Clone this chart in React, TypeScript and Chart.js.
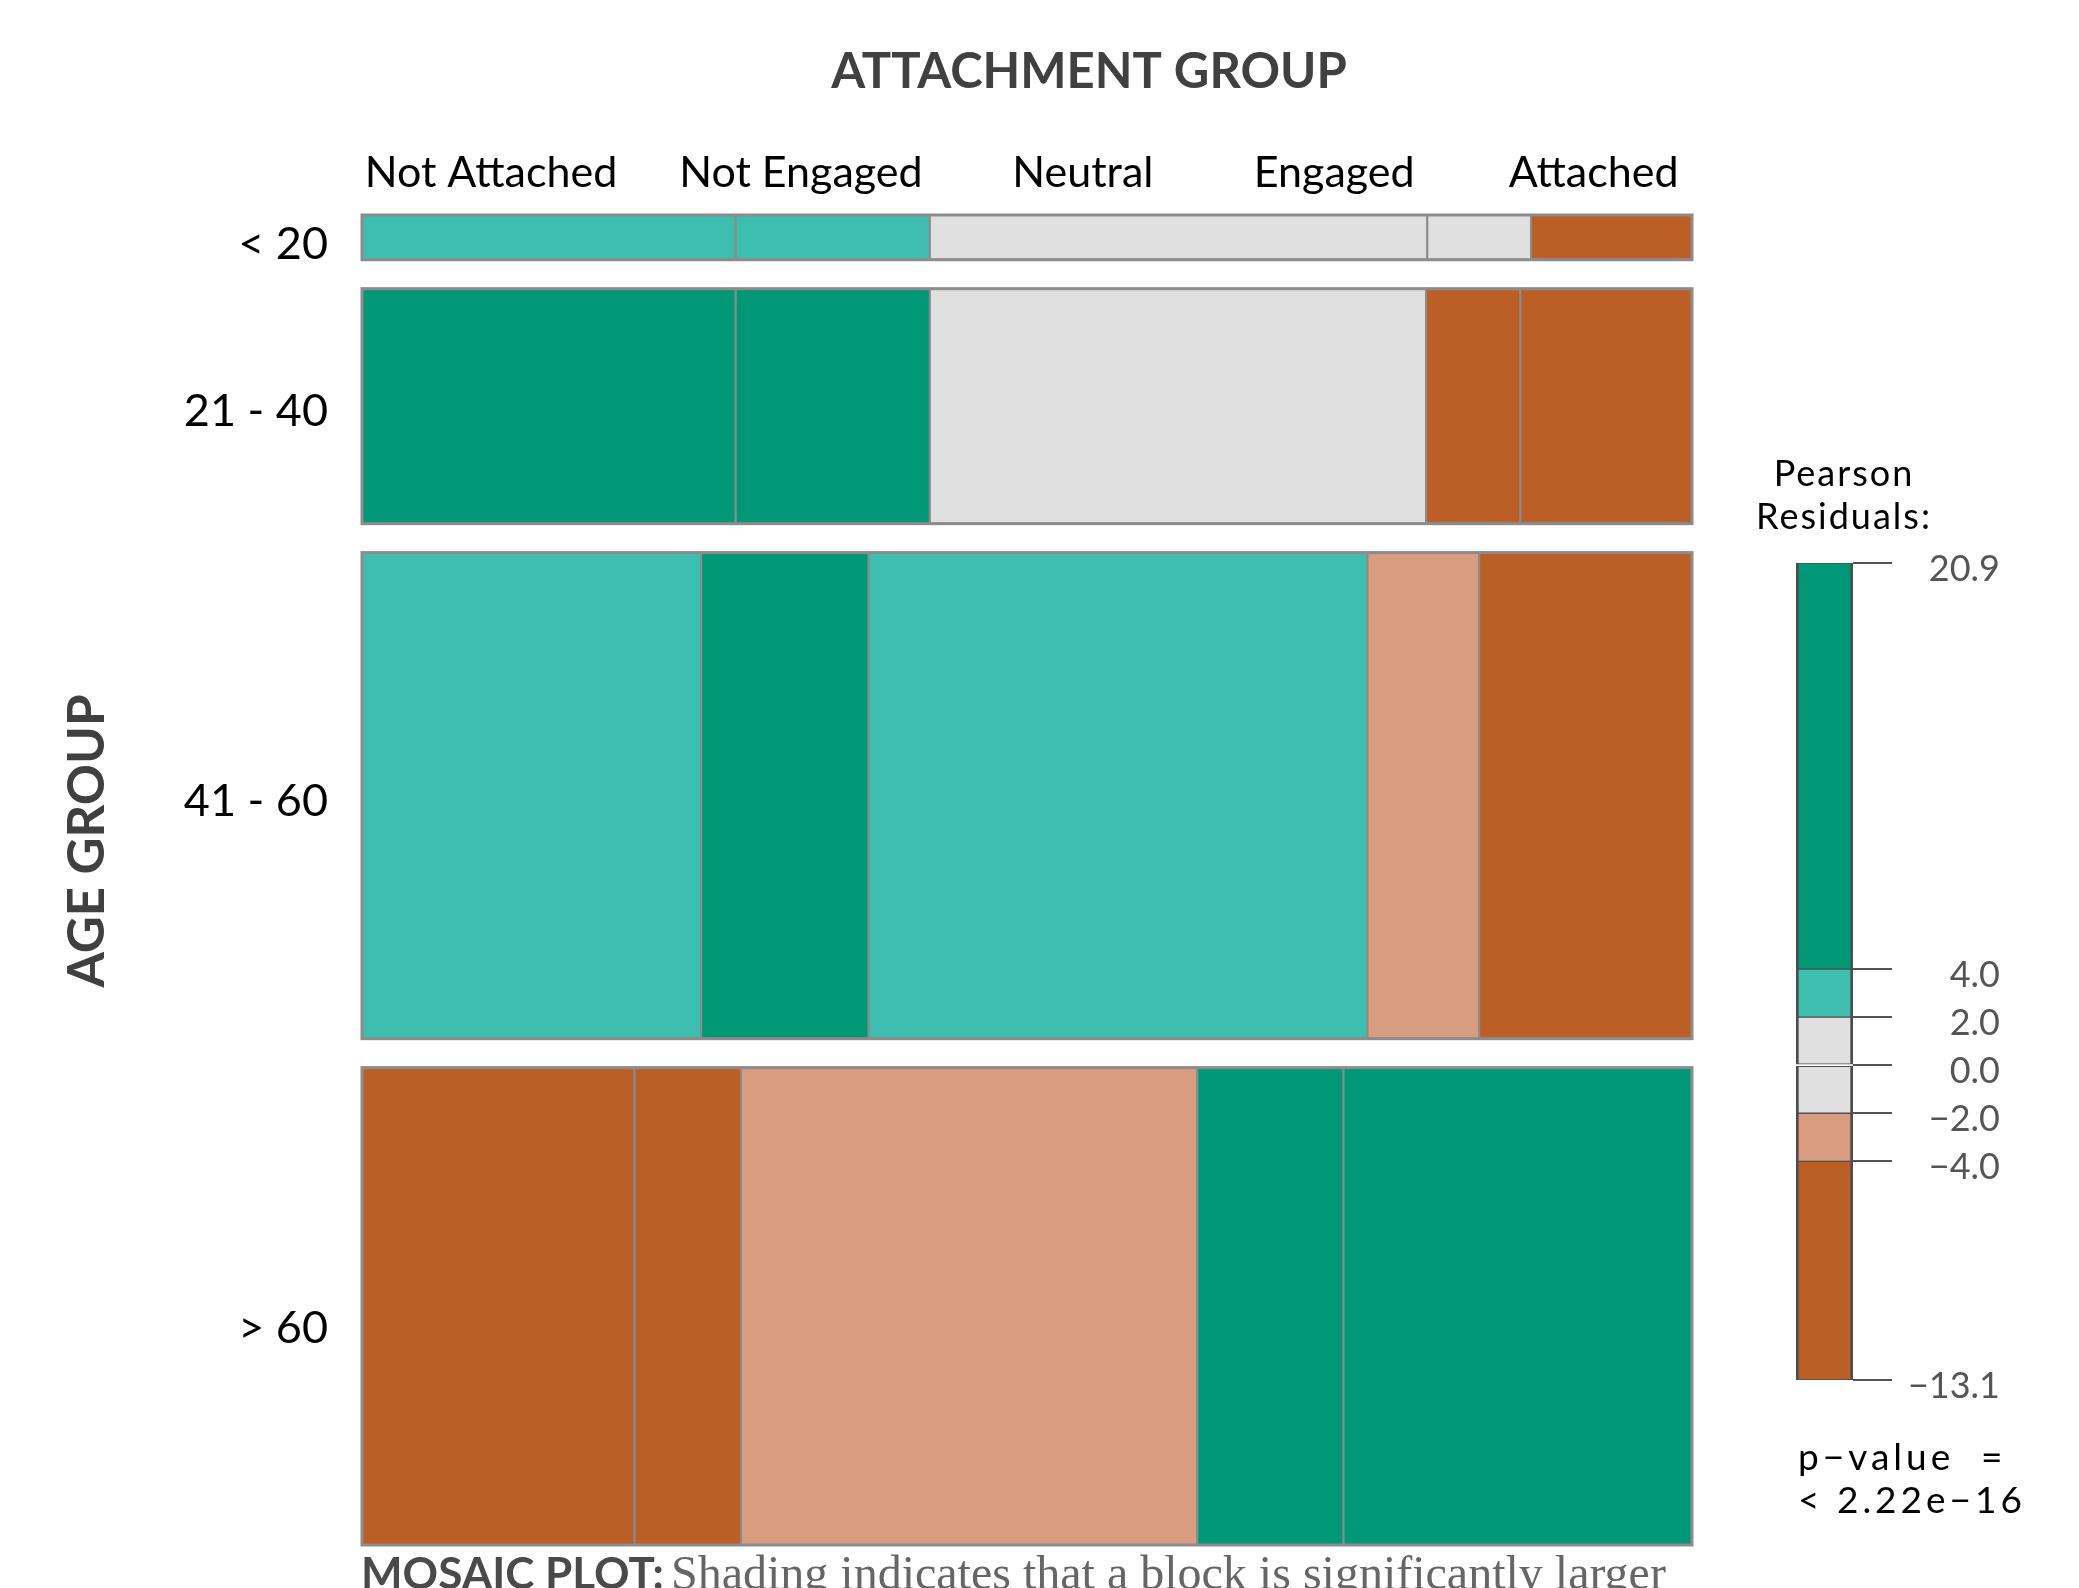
import { useEffect, useRef } from "react";
import { Chart, registerables } from "chart.js";

Chart.register(...registerables);

// ---------------- data ----------------
const attachmentGroups = ["Not Attached", "Not Engaged", "Neutral", "Engaged", "Attached"];
const ageGroups = ["< 20", "21 - 40", "41 - 60", "> 60"];

// share of respondents in each age group (row heights, %)
const ageShares = [3.6, 18.9, 39.1, 38.4];

// conditional share of each attachment group within an age group (%)
const under20Shares = [28.1, 14.6, 37.4, 7.8, 12.1];
const age21to40Shares = [28.1, 14.6, 37.3, 7.1, 12.9];
const age41to60Shares = [25.5, 12.6, 37.5, 8.4, 16.0];
const over60Shares = [20.5, 8.0, 34.3, 11.0, 26.2];

// Pearson residuals per cell (estimated from the shading)
const under20Residuals = [3.4, 2.7, 1.1, 0.6, -4.3];
const age21to40Residuals = [11.6, 6.8, 1.4, -5.2, -10.7];
const age41to60Residuals = [3.3, 4.9, 2.9, -3.1, -7.4];
const over60Residuals = [-13.1, -6.3, -3.4, 6.1, 20.9];

// legend breaks of the residual scale
const residualBreaks = [-13.1, -4, -2, 0, 2, 4, 20.9];
const legendTitle = ["Pearson", "Residuals:"];
const pValueText = ["p\u2212value  =", "< 2.22e\u221216"];

const chartTitle = "ATTACHMENT GROUP";
const rowTitle = "AGE GROUP";
const captionBold = "MOSAIC PLOT:";
const captionText = "Shading indicates that a block is significantly larger";

// ---------------- styles / layout ----------------
const W = 2079;
const H = 1588;
const FONT = "Lato, 'Open Sans', sans-serif";
const colors = {
  strongPos: "#009877",
  pos: "#3EBEAE",
  neutral: "#E0E0E0",
  neg: "#D89C80",
  strongNeg: "#BB5F27",
  cellBorder: "#8C8C8C",
};
const rowGap = 2.33; // spacing between rows, in row-share units
const colLabelPos = [9.7, 33.0, 54.2, 73.1, 92.6]; // column header centres, % of width
const rowLabelShift = [0.15, 0, 0.05, 1.4]; // small nudges of row labels, in row-share units

const rowShares = [under20Shares, age21to40Shares, age41to60Shares, over60Shares];
const rowResiduals = [under20Residuals, age21to40Residuals, age41to60Residuals, over60Residuals];

function shade(r: number) {
  if (r > 4) return colors.strongPos;
  if (r > 2) return colors.pos;
  if (r < -4) return colors.strongNeg;
  if (r < -2) return colors.neg;
  return colors.neutral;
}

function rowTop(i: number) {
  let t = 0;
  for (let j = 0; j < i; j++) t += ageShares[j] + rowGap;
  return t;
}
const yMax = rowTop(ageShares.length - 1) + ageShares[ageShares.length - 1];

function fmt(v: number) {
  return (v < 0 ? "\u2212" : "") + Math.abs(v).toFixed(1);
}

const mosaicPlugin = {
  id: "mosaic",
  beforeDatasetsDraw(chart: any) {
    const { ctx } = chart;
    const x = chart.scales.x;
    const y = chart.scales.y;
    ctx.save();
    rowShares.forEach((shares: number[], i: number) => {
      const total = shares.reduce((a, b) => a + b, 0);
      const top = rowTop(i);
      const y0 = y.getPixelForValue(top);
      const y1 = y.getPixelForValue(top + ageShares[i]);
      let acc = 0;
      shares.forEach((s, j) => {
        const x0 = x.getPixelForValue((acc / total) * 100);
        const x1 = x.getPixelForValue(((acc + s) / total) * 100);
        ctx.fillStyle = shade(rowResiduals[i][j]);
        ctx.fillRect(x0, y0, x1 - x0, y1 - y0);
        ctx.strokeStyle = colors.cellBorder;
        ctx.lineWidth = 2;
        ctx.strokeRect(x0, y0, x1 - x0, y1 - y0);
        acc += s;
      });
      const xl = x.getPixelForValue(0);
      const xr = x.getPixelForValue(100);
      ctx.lineWidth = 3;
      ctx.strokeStyle = colors.cellBorder;
      ctx.strokeRect(xl, y0, xr - xl, y1 - y0);
    });
    ctx.restore();
  },
};

const textPlugin = {
  id: "texts",
  afterDraw(chart: any) {
    const { ctx } = chart;
    ctx.save();
    ctx.textBaseline = "alphabetic";
    // title
    ctx.fillStyle = "#404040";
    ctx.font = `bold 49px ${FONT}`;
    ctx.textAlign = "center";
    ctx.fillText(chartTitle, 1089, 88);
    // row title
    ctx.save();
    ctx.translate(86, 841);
    ctx.rotate(-Math.PI / 2);
    ctx.font = `bold 51px ${FONT}`;
    ctx.fillText(rowTitle, 0, 18);
    ctx.restore();
    // caption
    ctx.textAlign = "left";
    ctx.fillStyle = "#4a4a4a";
    ctx.font = `bold 44px ${FONT}`;
    ctx.fillText(captionBold, 361, 1589);
    ctx.fillStyle = "#666666";
    ctx.font = `48px 'Liberation Serif', serif`;
    ctx.fillText(captionText, 671, 1589);
    ctx.restore();
  },
};

const legendTextPlugin = {
  id: "legendTexts",
  afterDraw(chart: any) {
    const { ctx } = chart;
    ctx.save();
    ctx.fillStyle = "#000";
    ctx.font = `36px ${FONT}`;
    (ctx as any).letterSpacing = "2px";
    ctx.textBaseline = "middle";
    ctx.textAlign = "center";
    ctx.fillText(legendTitle[0], 1844, 474);
    ctx.fillText(legendTitle[1], 1844, 517);
    ctx.textAlign = "left";
    ctx.font = `37px ${FONT}`;
    (ctx as any).letterSpacing = "4px";
    ctx.fillText(pValueText[0], 1798, 1458);
    ctx.fillText(pValueText[1], 1798, 1501);
    ctx.restore();
  },
};

function mainConfig(): any {
  return {
    type: "scatter",
    data: { datasets: [] },
    options: {
      animation: false,
      responsive: false,
      devicePixelRatio: 1,
      layout: { padding: { left: 0, top: 0, right: 387, bottom: 43 } },
      plugins: { legend: { display: false }, tooltip: { enabled: false }, title: { display: false } },
      scales: {
        x: { type: "linear", min: 0, max: 100, display: false },
        xTop: {
          type: "linear",
          position: "top",
          min: 0,
          max: 100,
          afterFit(s: any) {
            s.height = 215;
            s.paddingLeft = 0;
            s.paddingRight = 0;
          },
          afterBuildTicks(s: any) {
            s.ticks = colLabelPos.map((v) => ({ value: v }));
          },
          ticks: {
            callback: (_v: any, i: number) => attachmentGroups[i],
            font: { family: FONT, size: 43 },
            color: "#000",
            padding: 16,
            autoSkip: false,
            maxRotation: 0,
            minRotation: 0,
          },
          grid: { display: false, drawTicks: false },
          border: { display: false },
        },
        y: {
          type: "linear",
          position: "left",
          min: 0,
          max: yMax,
          reverse: true,
          afterFit(s: any) {
            s.width = 362;
            s.paddingTop = 0;
            s.paddingBottom = 0;
          },
          afterBuildTicks(s: any) {
            s.ticks = ageGroups.map((_g, i) => ({ value: rowTop(i) + ageShares[i] / 2 + rowLabelShift[i] }));
          },
          ticks: {
            callback: (_v: any, i: number) => ageGroups[i],
            font: { family: FONT, size: 45 },
            color: "#000",
            padding: 34,
            labelOffset: 5,
            autoSkip: false,
          },
          grid: { display: false, drawTicks: false },
          border: { display: false },
        },
      },
    },
    plugins: [mosaicPlugin, textPlugin],
  };
}

function legendConfig(): any {
  const bands = residualBreaks.slice(0, -1).map((lo, k) => {
    const hi = residualBreaks[k + 1];
    return {
      data: [[lo, hi]],
      backgroundColor: shade((lo + hi) / 2),
      borderColor: "#4d4d4d",
      borderWidth: { left: 3, right: 3, top: 1, bottom: 1 },
      borderSkipped: false,
      grouped: false,
      barPercentage: 1,
      categoryPercentage: 1,
    };
  });
  return {
    type: "bar",
    data: { labels: ["residuals"], datasets: bands },
    options: {
      animation: false,
      responsive: false,
      devicePixelRatio: 1,
      layout: { padding: { left: 1796, right: 79, top: 563, bottom: 208 } },
      plugins: { legend: { display: false }, tooltip: { enabled: false } },
      scales: {
        x: { display: false },
        y: {
          position: "right",
          min: residualBreaks[0],
          max: residualBreaks[residualBreaks.length - 1],
          afterFit(s: any) {
            s.width = 147;
            s.paddingTop = 0;
            s.paddingBottom = 0;
          },
          afterBuildTicks(s: any) {
            s.ticks = residualBreaks.map((v) => ({ value: v }));
          },
          ticks: {
            callback: (v: any) => fmt(Number(v)),
            font: { family: FONT, size: 36 },
            color: "#555555",
            crossAlign: "far",
            padding: 16,
            labelOffset: 6,
            autoSkip: false,
          },
          grid: { drawOnChartArea: false, drawTicks: true, tickLength: 39, color: "#555555", lineWidth: 2 },
          border: { display: false },
        },
      },
    },
    plugins: [legendTextPlugin],
  };
}

export default function App() {
  const mainRef = useRef<HTMLCanvasElement>(null);
  const legendRef = useRef<HTMLCanvasElement>(null);
  useEffect(() => {
    const main = new Chart(mainRef.current as HTMLCanvasElement, mainConfig());
    const legend = new Chart(legendRef.current as HTMLCanvasElement, legendConfig());
    return () => {
      main.destroy();
      legend.destroy();
    };
  }, []);
  const cs: any = { position: "absolute", left: 0, top: 0, width: W, height: H };
  return (
    <div style={{ position: "absolute", left: 0, top: 0, width: W, height: H, background: "#fff", overflow: "hidden" }}>
      <canvas ref={mainRef} width={W} height={H} style={cs} />
      <canvas ref={legendRef} width={W} height={H} style={cs} />
    </div>
  );
}
